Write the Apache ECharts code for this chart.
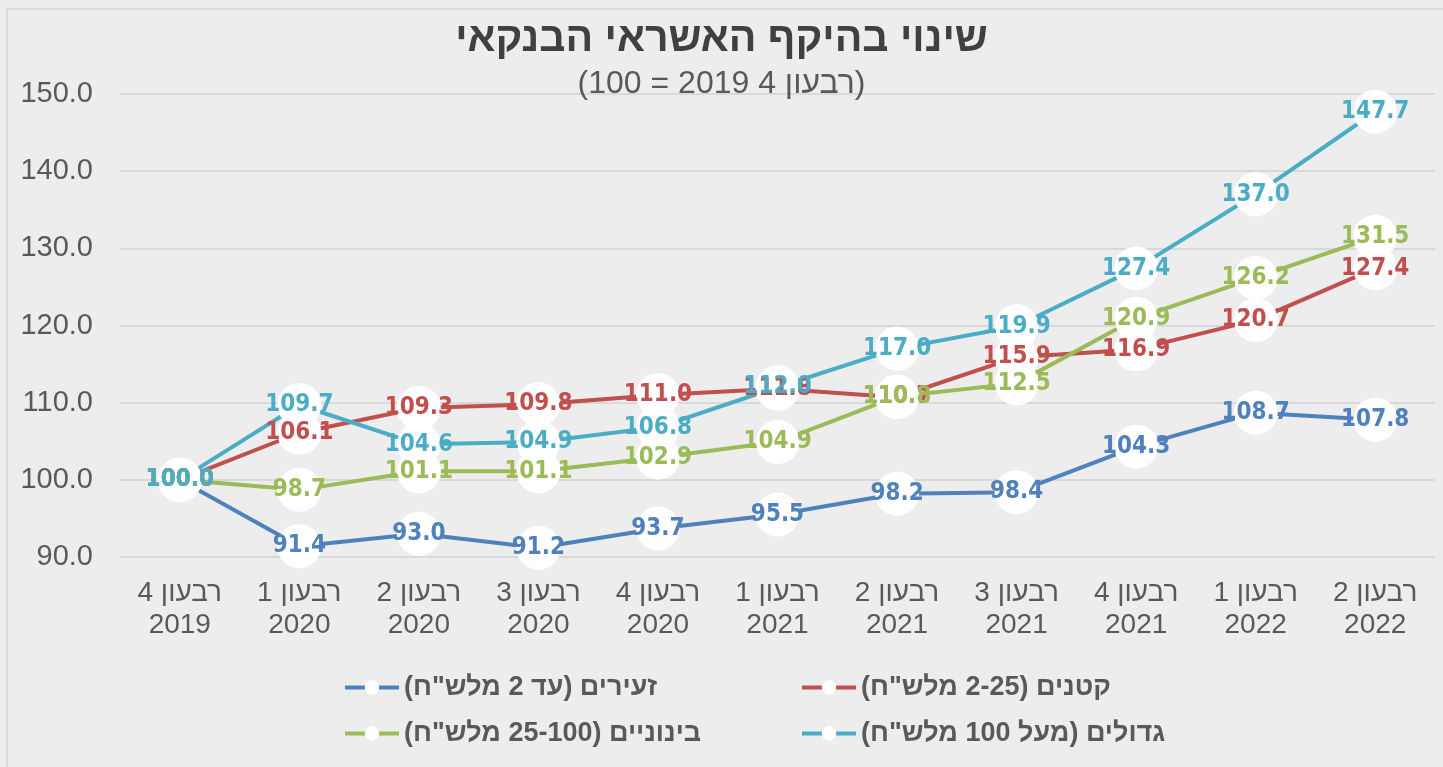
<!DOCTYPE html>
<html>
<head>
<meta charset="utf-8">
<script src="https://cdn.jsdelivr.net/npm/echarts@6/dist/echarts.min.js"></script>
<style>
  html, body { margin: 0; padding: 0; background: #ededed; }
  #box { position: absolute; left: 6px; top: 8px; width: 1443px; height: 767px; border-top: 2px solid #d9d9d9; border-left: 2px solid #d9d9d9; box-sizing: border-box; }
  #chart { position: absolute; left: 0; top: 0; width: 1443px; height: 767px; }
</style>
</head>
<body>
<div id="box"></div>
<div id="chart" dir="rtl"></div>
<script>
// quarters (x axis)
const quarters = ['רבעון 4\n2019', 'רבעון 1\n2020', 'רבעון 2\n2020', 'רבעון 3\n2020', 'רבעון 4\n2020',
  'רבעון 1\n2021', 'רבעון 2\n2021', 'רבעון 3\n2021', 'רבעון 4\n2021', 'רבעון 1\n2022', 'רבעון 2\n2022']

// index values, 4Q2019 = 100
const tiny   = [100.0, 91.4, 93.0, 91.2, 93.7, 95.5, 98.2, 98.4, 104.3, 108.7, 107.8]
const small  = [100.0, 106.1, 109.3, 109.8, 111.0, 111.8, 110.7, 115.9, 116.9, 120.7, 127.4]
const medium = [100.0, 98.7, 101.1, 101.1, 102.9, 104.9, 110.8, 112.5, 120.9, 126.2, 131.5]
const large  = [100.0, 109.7, 104.6, 104.9, 106.8, 112.0, 117.0, 119.9, 127.4, 137.0, 147.7]

const names = ['זעירים (עד 2 מלש"ח)', 'קטנים (2-25 מלש"ח)', 'בינוניים (25-100 מלש"ח)', 'גדולים (מעל 100 מלש"ח)']
const colors = ['#4F81BD', '#C0504D', '#9BBB59', '#4BACC6']

const sans = "'Liberation Sans', Arial, sans-serif"
const labelFont = "'DejaVu Sans Condensed', 'DejaVu Sans', sans-serif"

const mkSeries = (i, data) => ({
  name: names[i],
  type: 'line',
  data: data,
  color: colors[i],
  symbol: 'circle',
  symbolSize: 44,
  itemStyle: { color: '#ffffff' },
  lineStyle: { color: colors[i], width: 4 },
  label: {
    show: true,
    position: 'inside',
    formatter: p => p.value.toFixed(1),
    color: colors[i],
    fontFamily: labelFont,
    fontWeight: 'bold',
    fontSize: 24
  },
  emphasis: { disabled: true },
  animation: false
})

const legendAt = (i, left, top) => ({
  data: [names[i]],
  left: left,
  top: top,
  itemWidth: 54,
  itemHeight: 18,
  itemGap: 4,
  lineStyle: { width: 4 },
  textStyle: { color: '#595959', fontFamily: sans, fontWeight: 'bold', fontSize: 27 },
  selectedMode: false
})

const myChart = echarts.init(document.getElementById('chart'))

const option = {
  backgroundColor: 'transparent',
  title: {
    text: 'שינוי בהיקף האשראי הבנקאי',
    subtext: '(רבעון 4 2019 = 100)',
    left: 'center',
    top: 14,
    itemGap: 8,
    textStyle: { color: '#404040', fontFamily: sans, fontWeight: 'bold', fontSize: 41 },
    subtextStyle: { color: '#595959', fontFamily: sans, fontSize: 32 }
  },
  legend: [
    legendAt(0, 338, 669),
    legendAt(1, 795, 669),
    legendAt(2, 338, 715),
    legendAt(3, 795, 715)
  ],
  grid: { left: 120, right: 8, top: 94, bottom: 210 },
  xAxis: {
    type: 'category',
    data: quarters,
    axisLine: { show: false },
    axisTick: { show: false },
    axisLabel: { interval: 0, color: '#595959', fontFamily: sans, fontSize: 28, lineHeight: 32, margin: 20 }
  },
  yAxis: {
    type: 'value',
    min: 90,
    max: 150,
    interval: 10,
    axisLabel: { color: '#595959', fontFamily: sans, fontSize: 29, margin: 27, formatter: v => v.toFixed(1) },
    splitLine: { lineStyle: { color: '#d9d9d9', width: 2 } }
  },
  series: [
    mkSeries(0, tiny),
    mkSeries(1, small),
    mkSeries(2, medium),
    mkSeries(3, large)
  ]
}

myChart.setOption(option)
</script>
</body>
</html>
